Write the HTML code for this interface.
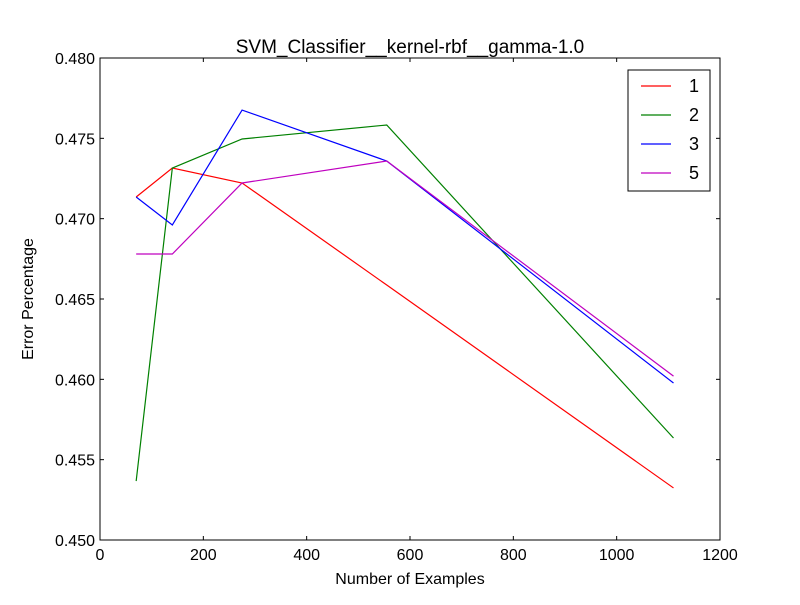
<!DOCTYPE html>
<html><head><meta charset="utf-8"><style>
body{margin:0;background:#fff;}
svg text{font-family:"Liberation Sans","DejaVu Sans",sans-serif;}
</style></head><body>
<svg id="chart" width="800" height="600">
<rect x="0" y="0" width="800" height="600" fill="#fff"/>
<text x="410" y="53" font-size="19" text-anchor="middle">SVM_Classifier__kernel-rbf__gamma-1.0</text>
<g id="ticks"></g>
<g id="series"></g>
<rect x="100" y="58" width="620" height="482" fill="none" stroke="#000" stroke-width="1"/>
<text x="410" y="584" font-size="16" text-anchor="middle">Number of Examples</text>
<text x="33" y="299" font-size="16" text-anchor="middle" transform="rotate(-90 33 299)">Error Percentage</text>
<g id="legend"></g>
</svg>
<script>
const xValues=[70,140,275,555,1110];
const labels=["1","2","3","5"];
const colors=["#ff0000","#008000","#0000ff","#bf00bf"];
const s1=[0.47135,0.47315,0.47222,0.46587,0.45324];
const s2=[0.45367,0.47315,0.47496,0.47583,0.45635];
const s3=[0.47135,0.46961,0.47676,0.47359,0.45977];
const s5=[0.4678,0.4678,0.47222,0.47359,0.4602];
const xTicks=[0,200,400,600,800,1000,1200];
const yTicks=[0.450,0.455,0.460,0.465,0.470,0.475,0.480];
const NS="http://www.w3.org/2000/svg";
const L=100,R=720,T=58,B=540;
const xs=v=>L+(v-0)/(1200-0)*(R-L);
const ys=v=>B-(v-0.45)/(0.48-0.45)*(B-T);
function mk(tag,attrs,parent){const e=document.createElementNS(NS,tag);for(const k in attrs)e.setAttribute(k,attrs[k]);parent.appendChild(e);return e;}
const tg=document.getElementById('ticks');
xTicks.forEach(t=>{const x=xs(t);
mk('line',{x1:x,x2:x,y1:B,y2:B-4,stroke:'#000'},tg);
mk('line',{x1:x,x2:x,y1:T,y2:T+4,stroke:'#000'},tg);
const tx=mk('text',{x:x,y:B+20,'font-size':16,'text-anchor':'middle'},tg);tx.textContent=t;

});
yTicks.forEach(t=>{const y=ys(t);
mk('line',{x1:L,x2:L+4,y1:y,y2:y,stroke:'#000'},tg);
mk('line',{x1:R,x2:R-4,y1:y,y2:y,stroke:'#000'},tg);
const tx=mk('text',{x:L-5,y:y+6,'font-size':16,'text-anchor':'end'},tg);tx.textContent=t.toFixed(3);

});
const sg=document.getElementById('series');
[s1,s2,s3,s5].forEach((s,i)=>{
const p=mk('polyline',{points:s.map((v,j)=>xs(xValues[j])+','+ys(v)).join(' '),fill:'none',stroke:colors[i],'stroke-width':1.2},sg);

});
const lg=document.getElementById('legend');
mk('rect',{x:628,y:70,width:82,height:121,fill:'#fff',stroke:'#000'},lg);
labels.forEach((l,i)=>{const y=86+i*29;
mk('line',{x1:641,x2:671,y1:y,y2:y,stroke:colors[i],'stroke-width':1.2},lg);
const t=mk('text',{x:689,y:y+6,'font-size':18},lg);t.textContent=l;

});
</script>
</body></html>
